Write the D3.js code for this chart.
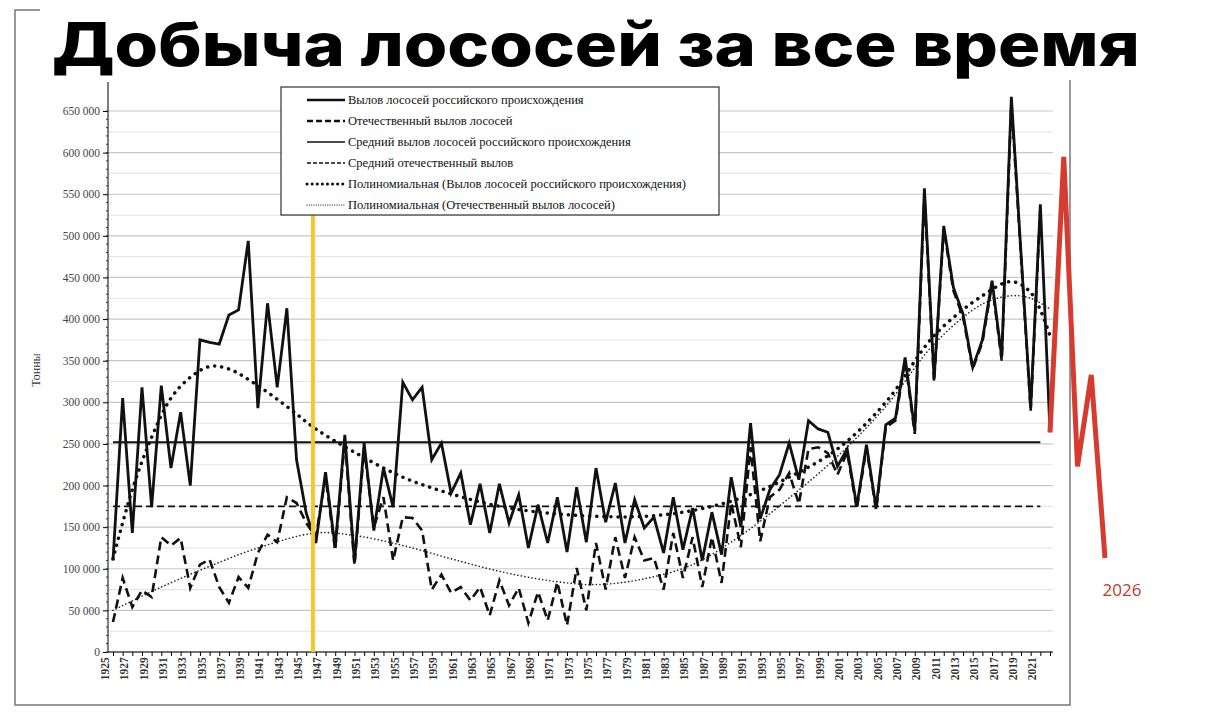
<!DOCTYPE html>
<html><head><meta charset="utf-8">
<script src="https://cdn.jsdelivr.net/npm/d3@7"></script>
<style>body{margin:0;background:#fff}svg{display:block}</style>
</head><body>
<script>
const years = d3.range(1925, 2023);
const russianCatch = [110,305,143,318,174,320,221,288,200,375,372,370,405,411,494,293,419,318,413,231,167,131,216,126,261,108,251,146,221,174,324,303,318,231,251,191,215,153,202,143,202,155,189,125,177,131,186,120,198,132,221,156,203,131,183,149,162,119,186,123,173,110,168,117,210,150,275,160,195,213,251,207,278,268,264,223,244,175,249,173,273,281,354,266,557,328,512,438,406,342,375,446,354,667,479,293,538,264].map(v=>v*1000);
const domesticCatch = [36,89,54,74,66,138,128,137,77,105,111,78,59,90,77,119,141,132,186,179,155,138,210,122,255,104,245,150,186,110,162,161,146,75,93,71,78,62,78,44,86,56,77,35,72,38,84,32,101,50,131,75,138,89,138,110,113,75,143,89,138,78,138,83,179,126,246,133,186,195,215,178,244,246,239,213,240,172,245,170,270,278,350,262,550,325,508,434,402,340,372,442,350,660,475,290,533].map(v=>v*1000);
const meanRussian = 252000, meanDomestic = 175000;
const trendRussianYears = [1925,1927,1929,1931,1933,1935,1937,1940,1943,1946,1950,1955,1960,1965,1970,1975,1980,1985,1990,1995,2000,2005,2010,2015,2018,2020,2022];
const trendRussianVals = [112,195,258,305,330,343,340,320,295,268,240,210,190,175,167,163,163,170,185,210,244,300,380,428,445,432,380].map(v=>v*1000);
const trendDomYears = [1925,1930,1935,1940,1946,1950,1955,1960,1965,1970,1975,1980,1985,1990,1995,2000,2005,2010,2015,2018,2020,2022];
const trendDomVals = [50,78,103,125,143,140,128,112,97,86,81,88,105,140,185,235,295,370,418,428,425,412].map(v=>v*1000);
const forecastYears = [2022,2023,2024,2025,2026];
const forecastVals = [264000,595000,223000,333000,113000];
const markerYear = 1945.7;
const yTicks = d3.range(0, 650001, 50000);
const legendLabels = ["Вылов лососей российского происхождения","Отечественный вылов лососей","Средний вылов лососей российского происхождения","Средний отечественный вылов","Полиномиальная (Вылов лососей российского происхождения)","Полиномиальная (Отечественный вылов лососей)"];
const title = "Добыча лососей за все время";

const W=1208,H=719;
const svg=d3.select("body").append("svg").attr("width",W).attr("height",H);
const x=d3.scaleLinear().domain([1925,2022]).range([113,1050]);
const xf=d3.scaleLinear().domain([2022,2026]).range([1050,1105]);
const y=d3.scaleLinear().domain([0,650000]).range([652,111]);
const fmt=v=>d3.format(",")(v).replace(/,/g," ");
const serif="'Liberation Serif','DejaVu Serif',serif";

svg.append("rect").attr("x",15).attr("y",10).attr("width",1055).attr("height",695).attr("fill","none").attr("stroke","#777").attr("stroke-width",1.5);
svg.append("rect").attr("x",40).attr("y",0).attr("width",1115).attr("height",80).attr("fill","#fff");
svg.append("text").attr("x",52).attr("y",66).attr("font-family","Inter,'Open Sans',sans-serif").attr("font-weight",800).attr("font-size",60).attr("textLength",1088).attr("lengthAdjust","spacingAndGlyphs").text(title);

const minor=d3.range(0,650001,25000);
svg.append("g").selectAll("line").data(minor).join("line").attr("x1",108).attr("x2",1053).attr("y1",d=>y(d)).attr("y2",d=>y(d)).attr("stroke",d=>d%50000===0?"#c8c8c8":"#e6e6e6").attr("stroke-width",1.2);

const ya=svg.append("g").attr("transform","translate(108,0)").call(d3.axisLeft(y).tickValues(yTicks).tickFormat(fmt).tickSize(5));
ya.select(".domain").attr("d","M0,82V652");
ya.selectAll("text").attr("font-family",serif).attr("font-size",11.5).attr("fill","#444");
svg.append("g").selectAll("line").data(d3.range(0,650001,10000)).join("line").attr("x1",106).attr("x2",108).attr("y1",d=>y(d)).attr("y2",d=>y(d)).attr("stroke","#333");
const xa=svg.append("g").attr("transform","translate(0,652)").call(d3.axisBottom(x).tickValues(years).tickFormat(d=>(d-1925)%2===0?d:"").tickSize(4));
xa.select(".domain").attr("d","M108,0H1053");
xa.selectAll("text").attr("font-family",serif).attr("font-size",11.5).attr("font-weight","bold").attr("fill","#333").attr("transform","rotate(-90)").attr("text-anchor","end").attr("dx","-0.45em").attr("dy","-0.4em").attr("x",0).attr("y",0);
svg.append("text").attr("transform","translate(40,370) rotate(-90)").attr("text-anchor","middle").attr("font-family",serif).attr("font-size",12).attr("fill","#333").text("Тонны");

svg.append("line").attr("x1",x(1925)).attr("x2",x(2021)).attr("y1",y(meanRussian)).attr("y2",y(meanRussian)).attr("stroke","#111").attr("stroke-width",1.8);
svg.append("line").attr("x1",x(1925)).attr("x2",x(2021)).attr("y1",y(meanDomestic)).attr("y2",y(meanDomestic)).attr("stroke","#111").attr("stroke-width",1.8).attr("stroke-dasharray","7,4");

const lt=d3.line().curve(d3.curveCatmullRom);
svg.append("path").attr("d",lt(trendRussianYears.map((d,i)=>[x(d),y(trendRussianVals[i])]))).attr("fill","none").attr("stroke","#111").attr("stroke-width",3.5).attr("stroke-dasharray","0.1,7").attr("stroke-linecap","round");
svg.append("path").attr("d",lt(trendDomYears.map((d,i)=>[x(d),y(trendDomVals[i])]))).attr("fill","none").attr("stroke","#222").attr("stroke-width",1.6).attr("stroke-dasharray","0.1,3.5").attr("stroke-linecap","round");

const l=d3.line();
svg.append("path").attr("d",l(domesticCatch.map((v,i)=>[x(years[i]),y(v)]))).attr("fill","none").attr("stroke","#111").attr("stroke-width",2.6).attr("stroke-dasharray","9,5");
svg.append("path").attr("d",l(russianCatch.map((v,i)=>[x(years[i]),y(v)]))).attr("fill","none").attr("stroke","#111").attr("stroke-width",2.8);

svg.append("path").attr("d",l(forecastVals.map((v,i)=>[xf(forecastYears[i]),y(v)]))).attr("fill","none").attr("stroke","#d63b2f").attr("stroke-width",5);
svg.append("text").attr("x",1122).attr("y",596).attr("text-anchor","middle").attr("font-family","'Open Sans',sans-serif").attr("font-size",17).attr("fill","#c0392b").text("2026");

svg.append("line").attr("x1",x(markerYear)).attr("x2",x(markerYear)).attr("y1",214).attr("y2",652).attr("stroke","#f7c52e").attr("stroke-width",4);

const lg=svg.append("g");
lg.append("rect").attr("x",281).attr("y",87).attr("width",438).attr("height",128).attr("fill","#fff").attr("stroke","#333").attr("stroke-width",1.2);
const styles=[{w:2.6,d:null},{w:2.6,d:"6,3"},{w:1.6,d:null},{w:1.6,d:"4,2"},{w:3,d:"0.1,5",cap:"round"},{w:1.2,d:"0.1,2.2",cap:"round"}];
legendLabels.forEach((t,i)=>{
  const yy=100+i*21;
  lg.append("line").attr("x1",307).attr("x2",345).attr("y1",yy).attr("y2",yy).attr("stroke","#111").attr("stroke-width",styles[i].w).attr("stroke-dasharray",styles[i].d).attr("stroke-linecap",styles[i].cap||"butt");
  lg.append("text").attr("x",348).attr("y",yy+4).attr("font-family",serif).attr("font-size",12.5).attr("fill","#111").text(t);
});
</script>
</body></html>
